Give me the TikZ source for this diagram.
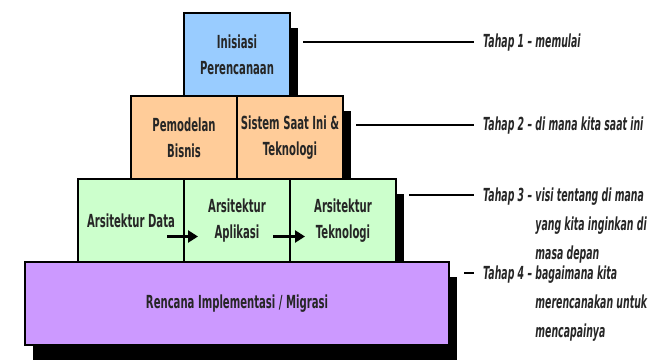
\documentclass[tikz,border=0pt]{standalone}
\usepackage{fontspec}
\setmainfont{DejaVu Sans}[FakeStretch=0.56]
\newfontfamily\stagefont{DejaVu Sans}[FakeStretch=0.52]
\usepackage{tikz}
\usetikzlibrary{arrows.meta, shadows}
\usetikzlibrary{positioning}
\definecolor{blue_fill}{RGB}{153,204,255}
\definecolor{orange_fill}{RGB}{255,204,153}
\definecolor{green_fill}{RGB}{204,255,204}
\definecolor{purple_fill}{RGB}{204,153,255}
\tikzstyle{layer_box} = [
    rectangle,
    draw=black,
    line width=1.2pt,
    text=black!85,
    font=\bfseries\fontsize{18}{26}\selectfont,
    align=center,
    inner sep=0pt,
    outer sep=0pt, % boxes touch each other
    minimum width=106pt,
    minimum height=83pt,
    drop shadow={shadow xshift=8pt, shadow yshift=-15pt, fill=black, opacity=1}
]
\tikzstyle{blue_box} = [layer_box, fill=blue_fill]
\tikzstyle{orange_box} = [layer_box, fill=orange_fill]
\tikzstyle{green_box} = [layer_box, fill=green_fill]
\tikzstyle{purple_box} = [layer_box, fill=purple_fill, minimum width=424pt]
\tikzstyle{stage_label} = [
    anchor=base west,
    inner sep=0pt,
    text=black!85,
    font=\stagefont\bfseries\itshape\fontsize{18}{29}\selectfont
]
\tikzstyle{stage_line} = [line width=2.6pt, black]
\tikzstyle{flow_arrow} = [line width=2.4pt, -{Triangle[length=10pt, width=12pt]}]

\begin{document}
\begin{tikzpicture}[x=1pt, y=-1pt]
\useasboundingbox (0,0) rectangle (662,361);

% pyramid, top to bottom
\node [blue_box] (inisiasi) at (237,54.5) {Inisiasi\\Perencanaan};
\node [orange_box, below left=0pt and 0pt of inisiasi.south] (pemodelan) {Pemodelan\\Bisnis};
\node [orange_box, right=0pt of pemodelan] (sistem) {Sistem Saat Ini \&\\Teknologi};
\node [green_box, below=0pt of pemodelan.south west] (data) {Arsitektur Data};
\node [green_box, right=0pt of data] (aplikasi) {Arsitektur\\Aplikasi};
\node [green_box, right=0pt of aplikasi] (teknologi) {Arsitektur\\Teknologi};
\node [purple_box, below=0pt of aplikasi] (rencana) {Rencana Implementasi / Migrasi};

\draw [flow_arrow] ([xshift=-17pt, yshift=-16pt]data.east) -- ([xshift=14pt, yshift=-16pt]aplikasi.west);
\draw [flow_arrow] ([xshift=-17pt, yshift=-16pt]aplikasi.east) -- ([xshift=15pt, yshift=-16pt]teknologi.west);

% stages
\node [stage_label] (tahap1) at (483,48) {Tahap 1 \textendash{} memulai};
\node [stage_label] (tahap2) at (483,131) {Tahap 2 \textendash{} di mana kita saat ini};
\node [stage_label] (tahap3) at (483,201) {%
    \begin{tabular}[t]{@{}l@{\ }l@{}}
    Tahap 3 \textendash & visi tentang di mana\\
     & yang kita inginkan di\\
     & masa depan
    \end{tabular}};
\node [stage_label] (tahap4) at (483,279) {%
    \begin{tabular}[t]{@{}l@{\ }l@{}}
    Tahap 4 \textendash & bagaimana kita\\
     & merencanakan untuk\\
     & mencapainya
    \end{tabular}};

\draw [stage_line] ([xshift=13pt, yshift=-29pt]inisiasi.north east) -- ([xshift=-9pt, yshift=6pt]tahap1.base west);
\draw [stage_line] ([xshift=13pt, yshift=-29pt]sistem.north east) -- ([xshift=-9pt, yshift=6pt]tahap2.base west);
\draw [stage_line] ([xshift=13pt, yshift=-16pt]teknologi.north east) -- ([xshift=-9pt, yshift=6pt]tahap3.base west);
\draw [stage_line] ([xshift=15pt, yshift=-11pt]rencana.north east) -- ([xshift=-9pt, yshift=6pt]tahap4.base west);
\end{tikzpicture}
\end{document}
